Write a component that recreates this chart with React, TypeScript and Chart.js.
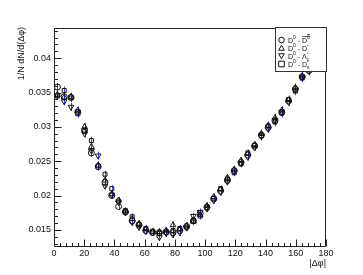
import { useEffect, useRef } from "react";
import { Chart, registerables } from "chart.js";

Chart.register(...registerables);

// bin centres of |Δφ| (degrees)
const binCenters = [
  2.25, 6.75, 11.25, 15.75, 20.25, 24.75, 29.25, 33.75, 38.25, 42.75,
  47.25, 51.75, 56.25, 60.75, 65.25, 69.75, 74.25, 78.75, 83.25, 87.75,
  92.25, 96.75, 101.25, 105.75, 110.25, 114.75, 119.25, 123.75, 128.25, 132.75,
  137.25, 141.75, 146.25, 150.75, 155.25, 159.75, 164.25, 168.75, 173.25, 177.75,
];

const seriesLabels = ["D0-D0bar", "D0-D-", "D0-Lc-", "D0-Ds-"];

const valsD0D0bar = [
  0.0358, 0.0344, 0.0343, 0.0321, 0.0295, 0.0262, 0.0242, 0.0219, 0.0200, 0.0184,
  0.0176, 0.0163, 0.0157, 0.0149, 0.0146, 0.0146, 0.0147, 0.0146, 0.0149, 0.0155,
  0.0163, 0.0174, 0.0183, 0.0195, 0.0207, 0.0222, 0.0236, 0.0248, 0.0259, 0.0272,
  0.0288, 0.0299, 0.0309, 0.0321, 0.0338, 0.0355, 0.0373, 0.0382, 0.0393, 0.0400,
];
const valsD0Dminus = [
  0.0347, 0.0343, 0.0344, 0.0324, 0.0300, 0.0271, 0.0244, 0.0222, 0.0202, 0.0193,
  0.0177, 0.0166, 0.0159, 0.0151, 0.0147, 0.0147, 0.0149, 0.0157, 0.0151, 0.0156,
  0.0162, 0.0172, 0.0185, 0.0198, 0.0209, 0.0226, 0.0238, 0.0251, 0.0261, 0.0274,
  0.0290, 0.0302, 0.0313, 0.0324, 0.0339, 0.0357, 0.0374, 0.0384, 0.0395, 0.0402,
];
const valsD0Lc = [
  0.0346, 0.0337, 0.0329, 0.0322, 0.0290, 0.0265, 0.0258, 0.0214, 0.0201, 0.0190,
  0.0175, 0.0161, 0.0154, 0.0148, 0.0146, 0.0139, 0.0145, 0.0143, 0.0146, 0.0153,
  0.0170, 0.0176, 0.0181, 0.0193, 0.0205, 0.0220, 0.0235, 0.0247, 0.0256, 0.0270,
  0.0286, 0.0297, 0.0310, 0.0322, 0.0336, 0.0354, 0.0372, 0.0381, 0.0392, 0.0399,
];
const valsD0Ds = [
  0.0345, 0.0353, 0.0342, 0.0319, 0.0293, 0.0280, 0.0243, 0.0231, 0.0210, 0.0192,
  0.0178, 0.0169, 0.0158, 0.0152, 0.0148, 0.0145, 0.0146, 0.0149, 0.0152, 0.0154,
  0.0164, 0.0170, 0.0182, 0.0196, 0.0210, 0.0224, 0.0233, 0.0246, 0.0262, 0.0273,
  0.0287, 0.0301, 0.0307, 0.0320, 0.0340, 0.0352, 0.0371, 0.0385, 0.0394, 0.0401,
];
// statistical uncertainty (same for all series)
const errVals = [
  0.0006, 0.0006, 0.0006, 0.0006, 0.0006, 0.0006, 0.0006, 0.0005, 0.0005, 0.0005,
  0.0005, 0.0005, 0.0005, 0.0005, 0.0005, 0.0005, 0.0005, 0.0005, 0.0005, 0.0005,
  0.0005, 0.0005, 0.0005, 0.0005, 0.0005, 0.0005, 0.0005, 0.0005, 0.0005, 0.0005,
  0.0006, 0.0006, 0.0006, 0.0006, 0.0006, 0.0006, 0.0006, 0.0006, 0.0006, 0.0006,
];

const xTicks = [0, 20, 40, 60, 80, 100, 120, 140, 160, 180];
const yTicks = [0.015, 0.02, 0.025, 0.03, 0.035, 0.04];

const FONT = "Liberation Sans, Arial, sans-serif";

type Seg = { t: string; sup?: boolean; sub?: boolean; bar?: boolean };
const legendTexts: Seg[][] = [
  [{ t: "D" }, { t: "0", sup: true }, { t: " - " }, { t: "D", bar: true }, { t: "0", sup: true, bar: true }],
  [{ t: "D" }, { t: "0", sup: true }, { t: " - " }, { t: "D" }, { t: "-", sup: true }],
  [{ t: "D" }, { t: "0", sup: true }, { t: " - " }, { t: "Λ" }, { t: "-", sup: true }, { t: "c", sub: true }],
  [{ t: "D" }, { t: "0", sup: true }, { t: " - " }, { t: "D" }, { t: "-", sup: true }, { t: "s", sub: true }],
];

function drawMarker(ctx: CanvasRenderingContext2D, style: number, x: number, y: number, r: number) {
  ctx.beginPath();
  if (style === 0) {
    ctx.arc(x, y, r, 0, Math.PI * 2);
  } else if (style === 1) {
    ctx.moveTo(x, y - r);
    ctx.lineTo(x + r, y + r * 0.8);
    ctx.lineTo(x - r, y + r * 0.8);
    ctx.closePath();
  } else if (style === 2) {
    ctx.moveTo(x, y + r);
    ctx.lineTo(x + r, y - r * 0.8);
    ctx.lineTo(x - r, y - r * 0.8);
    ctx.closePath();
  } else {
    ctx.rect(x - r, y - r, 2 * r, 2 * r);
  }
  ctx.stroke();
}

function drawRich(ctx: CanvasRenderingContext2D, segs: Seg[], x: number, y: number) {
  let cx = x;
  let lastBaseX = x;
  ctx.textBaseline = "alphabetic";
  ctx.textAlign = "left";
  for (const s of segs) {
    if (s.sup || s.sub) {
      ctx.font = `5px ${FONT}`;
      const w = ctx.measureText(s.t).width;
      const sx = s.sub ? lastBaseX : cx;
      const sy = s.sup ? y - 4 : y + 2;
      ctx.fillText(s.t, sx, sy);
      if (s.bar) {
        ctx.fillRect(sx, sy - 4.5, w, 0.6);
      }
      cx = Math.max(cx, sx + w);
    } else {
      ctx.font = `7px ${FONT}`;
      const w = ctx.measureText(s.t).width;
      ctx.fillText(s.t, cx, y);
      if (s.bar) {
        ctx.fillRect(cx, y - 6.5, w + 3, 0.6);
      }
      lastBaseX = cx + w;
      cx += w;
    }
  }
}

const rootPlugin = {
  id: "rootStyle",
  beforeDatasetsDraw(chart: any) {
    const ctx: CanvasRenderingContext2D = chart.ctx;
    const ys = chart.scales.y;
    const area = chart.chartArea;
    ctx.save();
    ctx.beginPath();
    ctx.rect(area.left, area.top, area.right - area.left, area.bottom - area.top);
    ctx.clip();
    ctx.strokeStyle = "rgba(40,40,230,0.85)";
    ctx.lineWidth = 1;
    chart.data.datasets.forEach((ds: any, i: number) => {
      const meta = chart.getDatasetMeta(i);
      meta.data.forEach((pt: any, j: number) => {
        const v = ds.data[j].y;
        const e = ds.errs[j];
        const x = Math.round(pt.x) + 0.5;
        ctx.beginPath();
        ctx.moveTo(x, ys.getPixelForValue(v + e));
        ctx.lineTo(x, ys.getPixelForValue(v - e));
        ctx.stroke();
      });
    });
    ctx.restore();
  },
  afterDatasetsDraw(chart: any) {
    const ctx: CanvasRenderingContext2D = chart.ctx;
    const xs = chart.scales.x;
    const ys = chart.scales.y;
    const a = chart.chartArea;
    const L = Math.round(a.left) + 0.5;
    const R = Math.round(a.right) - 0.5;
    const T = Math.round(a.top) + 0.5;
    const B = Math.round(a.bottom) - 0.5;
    ctx.save();
    ctx.lineWidth = 1;
    ctx.strokeStyle = "#222";
    // frame
    ctx.beginPath();
    ctx.rect(L, T, R - L, B - T);
    ctx.stroke();
    // y ticks (inside)
    ctx.beginPath();
    for (let k = 13; k <= 44; k++) {
      const v = k / 1000;
      const py = Math.round(ys.getPixelForValue(v)) + 0.5;
      if (py < T || py > B) continue;
      const major = k % 5 === 0;
      ctx.moveTo(L, py);
      ctx.lineTo(L + (major ? 7 : 3.5), py);
    }
    // x ticks (inside)
    for (let d = 0; d <= 180; d += 4) {
      const px = Math.round(xs.getPixelForValue(d)) + 0.5;
      const major = d % 20 === 0;
      ctx.moveTo(px, B);
      ctx.lineTo(px, B - (major ? 7 : 3.5));
    }
    ctx.stroke();

    // legend box
    const lx = 275.5, ly = 27.5, lw = 51, lh = 44;
    ctx.fillStyle = "#fff";
    ctx.fillRect(lx, ly, lw, lh);
    ctx.strokeStyle = "#333";
    ctx.strokeRect(lx, ly, lw, lh);
    ctx.fillStyle = "#111";
    ctx.strokeStyle = "#111";
    for (let i = 0; i < 4; i++) {
      const ry = 40 + i * 8;
      drawMarker(ctx, i, 281.5, ry, 2.8);
      drawRich(ctx, legendTexts[i], 288, ry + 2.5);
    }

    // axis titles
    ctx.fillStyle = "#111";
    ctx.font = `9px ${FONT}`;
    ctx.textAlign = "right";
    ctx.textBaseline = "bottom";
    ctx.fillText("|Δφ|", Math.round(a.right), 268);
    ctx.save();
    ctx.translate(26, Math.round(a.top) - 1);
    ctx.rotate(-Math.PI / 2);
    ctx.textAlign = "right";
    ctx.textBaseline = "bottom";
    ctx.fillText("1/N dN/d(Δφ)", 0, 0);
    ctx.restore();
    ctx.restore();
  },
};

export default function App() {
  const ref = useRef<HTMLCanvasElement | null>(null);

  useEffect(() => {
    document.body.style.margin = "0";
    const canvas = ref.current;
    if (!canvas) return;
    const allVals = [valsD0D0bar, valsD0Dminus, valsD0Lc, valsD0Ds];
    const styles = ["circle", "triangle", "triangle", "rect"];
    const rotations = [0, 0, 180, 0];
    const radii = [3, 3.3, 3.3, 2.8];
    const chart = new Chart(canvas, {
      type: "scatter",
      data: {
        datasets: allVals.map((vals, i) => ({
          label: seriesLabels[i],
          data: binCenters.map((x, j) => ({ x, y: vals[j] })),
          errs: errVals,
          showLine: false,
          pointStyle: styles[i],
          rotation: rotations[i],
          pointRadius: radii[i],
          pointBorderWidth: 1,
          pointBorderColor: "#111",
          pointBackgroundColor: "rgba(0,0,0,0)",
        })) as any,
      },
      options: {
        animation: false,
        responsive: false,
        devicePixelRatio: 1,
        layout: { padding: { left: 0, right: 37, top: 28, bottom: 0 } },
        plugins: { legend: { display: false }, tooltip: { enabled: false } },
        scales: {
          x: {
            type: "linear",
            min: 0,
            max: 180,
            afterBuildTicks: (s: any) => {
              s.ticks = xTicks.map((v) => ({ value: v }));
            },
            afterFit: (s: any) => {
              s.height = 28;
            },
            grid: { display: false, drawTicks: false },
            border: { display: false },
            ticks: {
              padding: 1,
              color: "#111",
              font: { family: FONT, size: 9 },
              maxRotation: 0,
              autoSkip: false,
              callback: (v: any) => String(v),
            },
          },
          y: {
            type: "linear",
            min: 0.0125,
            max: 0.0444,
            afterBuildTicks: (s: any) => {
              s.ticks = yTicks.map((v) => ({ value: v }));
            },
            afterFit: (s: any) => {
              s.width = 54;
            },
            grid: { display: false, drawTicks: false },
            border: { display: false },
            ticks: {
              padding: 3,
              color: "#111",
              font: { family: FONT, size: 9 },
              autoSkip: false,
              callback: (v: any) => String(Number(v.toFixed(4))),
            },
          },
        },
      },
      plugins: [rootPlugin],
    });
    return () => chart.destroy();
  }, []);

  return (
    <div style={{ width: 363, height: 275, background: "#fff" }}>
      <canvas ref={ref} width={363} height={275} style={{ display: "block" }} />
    </div>
  );
}
